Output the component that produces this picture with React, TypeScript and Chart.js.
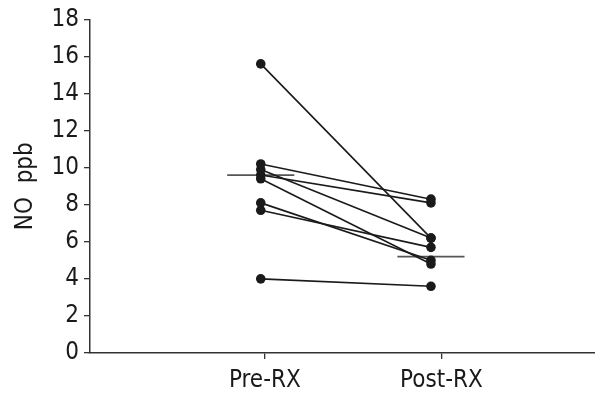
import React, { useEffect, useRef } from 'react';
import { Chart, registerables } from 'chart.js';
Chart.register(...registerables);

// Data
const categories = ['Pre-RX', 'Post-RX'];
const categoryX = [1, 2];
const pointX = [0.977, 1.941];
const preValues = [15.6, 10.2, 9.9, 9.6, 9.4, 8.1, 7.7, 4.0];
const postValues = [6.2, 8.3, 6.2, 8.1, 4.8, 5.0, 5.7, 3.6];
const centralValues = [9.6, 5.2];
const centralHalfWidth = 0.19;
const yTickValues = [0, 2, 4, 6, 8, 10, 12, 14, 16, 18];

const FONT = "'Liberation Sans Narrow', 'DejaVu Sans Condensed', 'Arial Narrow', 'Liberation Sans', sans-serif";

export default function App() {
  const canvasRef = useRef<HTMLCanvasElement | null>(null);

  useEffect(() => {
    const canvas = canvasRef.current;
    if (!canvas) return;

    const subjectSets = preValues.map((pre, i) => ({
      data: [
        { x: pointX[0], y: pre },
        { x: pointX[1], y: postValues[i] },
      ],
      showLine: true,
      borderColor: '#1a1a1a',
      borderWidth: 1.6,
      pointRadius: 4.8,
      pointBackgroundColor: '#1a1a1a',
      pointBorderColor: '#1a1a1a',
      pointBorderWidth: 0,
      clip: false as any,
      order: 1,
    }));

    const centralSets = centralValues.map((v, j) => ({
      data: [
        { x: pointX[j] - centralHalfWidth, y: v },
        { x: pointX[j] + centralHalfWidth, y: v },
      ],
      showLine: true,
      borderColor: '#555555',
      borderWidth: 1.6,
      pointRadius: 0,
      clip: false as any,
      order: 2,
    }));

    const chart = new Chart(canvas, {
      type: 'scatter',
      data: { datasets: [...subjectSets, ...centralSets] as any },
      options: {
        animation: false,
        responsive: false,
        maintainAspectRatio: false,
        layout: { autoPadding: false, padding: { top: 17, right: 0, left: 0, bottom: 0 } },
        plugins: {
          legend: { display: false },
          tooltip: { enabled: false },
        },
        scales: {
          x: {
            type: 'linear',
            min: 0.01,
            max: 2.87,
            afterBuildTicks: (scale: any) => {
              scale.ticks = categoryX.map((v) => ({ value: v }));
            },
            afterFit: (scale: any) => {
              scale.height = 43;
            },
            ticks: {
              color: '#1a1a1a',
              font: { family: FONT, size: 24 },
              padding: 7,
              maxRotation: 0,
              autoSkip: false,
              callback: (value: any) => {
                const idx = categoryX.indexOf(Number(value));
                return idx >= 0 ? categories[idx] : '';
              },
            },
            grid: {
              display: true,
              drawOnChartArea: false,
              drawTicks: true,
              tickLength: 6,
              tickColor: '#333',
              lineWidth: 1.3,
            },
            border: { display: true, color: '#333', width: 1.5 },
          },
          y: {
            type: 'linear',
            min: 0,
            max: 18,
            afterBuildTicks: (scale: any) => {
              scale.ticks = yTickValues.map((v) => ({ value: v }));
            },
            afterFit: (scale: any) => {
              scale.width = 90;
            },
            ticks: {
              color: '#1a1a1a',
              font: { family: FONT, size: 24 },
              padding: 5,
              autoSkip: false,
            },
            grid: {
              display: true,
              drawOnChartArea: false,
              drawTicks: true,
              tickLength: 6,
              tickColor: '#333',
              lineWidth: 1.3,
            },
            border: { display: true, color: '#333', width: 1.5 },
            title: {
              display: true,
              text: 'NO  ppb',
              color: '#1a1a1a',
              font: { family: FONT, size: 24 },
              padding: { top: 11, bottom: 0 },
            },
          },
        },
      },
    });

    return () => chart.destroy();
  }, []);

  return (
    <div style={{ position: 'fixed', left: 0, top: 0, width: 595, height: 396, background: '#fff' }}>
      <canvas ref={canvasRef} width={595} height={396} style={{ display: 'block' }} />
    </div>
  );
}
